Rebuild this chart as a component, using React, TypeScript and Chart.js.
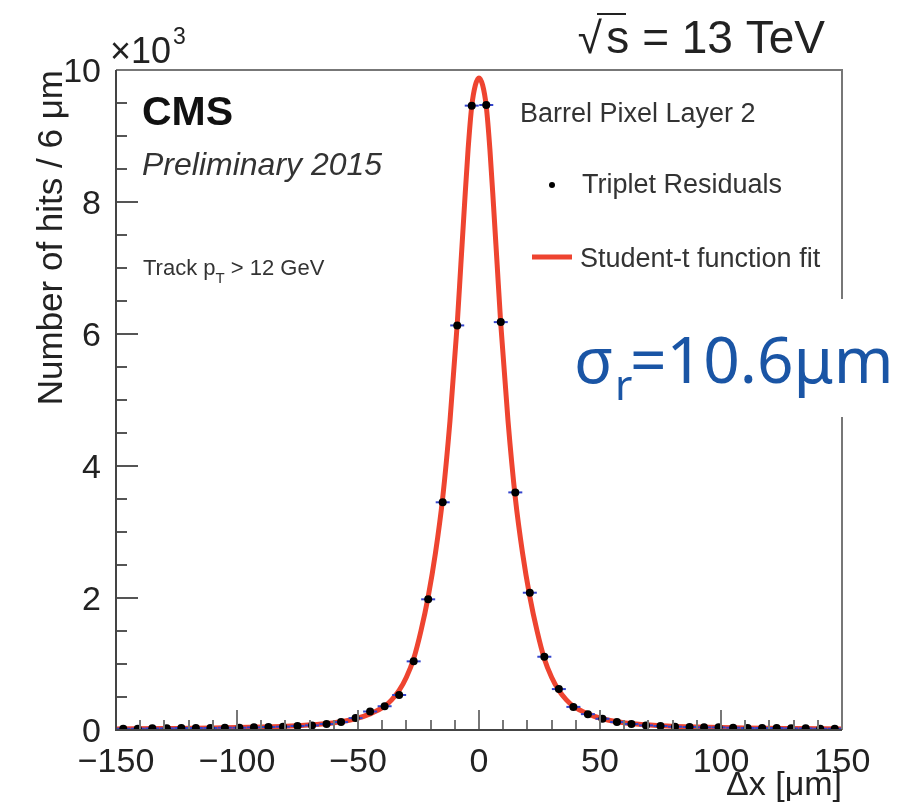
import React, { useEffect, useRef } from "react";
import { Chart, registerables } from "chart.js";

Chart.register(...registerables);

// ---- data (y in units of 10^3 hits) ----
const binCenters = [
  -147, -141, -135, -129, -123, -117, -111, -105, -99, -93,
  -87, -81, -75, -69, -63, -57, -51, -45, -39, -33,
  -27, -21, -15, -9, -3, 3, 9, 15, 21, 27,
  33, 39, 45, 51, 57, 63, 69, 75, 81, 87,
  93, 99, 105, 111, 117, 123, 129, 135, 141, 147,
];
const hitCounts = [
  0.02, 0.02, 0.025, 0.025, 0.03, 0.03, 0.03, 0.035, 0.035, 0.04,
  0.045, 0.05, 0.06, 0.07, 0.09, 0.12, 0.18, 0.28, 0.36, 0.53,
  1.04, 1.98, 3.45, 6.13, 9.46, 9.47, 6.18, 3.6, 2.08, 1.11,
  0.62, 0.35, 0.24, 0.17, 0.12, 0.09, 0.07, 0.06, 0.05, 0.045,
  0.04, 0.04, 0.035, 0.03, 0.03, 0.03, 0.025, 0.025, 0.02, 0.02,
];
const fitX = [
  -150, -130, -110, -90, -75, -65, -57, -51, -45, -39, -36, -33, -30, -27, -24,
  -21, -18, -15, -12, -9, -7.5, -6, -4.5, -3, -1.5, 0, 1.5, 3, 4.5, 6, 7.5, 9,
  12, 15, 18, 21, 24, 27, 30, 33, 36, 39, 45, 51, 57, 65, 75, 90, 110, 130, 150,
];
const fitY = [
  0.016, 0.022, 0.03, 0.045, 0.065, 0.09, 0.125, 0.17, 0.245, 0.36, 0.46, 0.6,
  0.8, 1.08, 1.5, 2.02, 2.68, 3.52, 4.68, 6.15, 7.05, 7.95, 8.8, 9.45, 9.77,
  9.88, 9.77, 9.45, 8.8, 7.95, 7.05, 6.15, 4.68, 3.52, 2.68, 2.02, 1.5, 1.08,
  0.8, 0.6, 0.46, 0.36, 0.245, 0.17, 0.125, 0.09, 0.065, 0.045, 0.03, 0.022,
  0.016,
];
const xTickValues = [-150, -100, -50, 0, 50, 100, 150];
const yTickValues = [0, 2, 4, 6, 8, 10];
const xMinorStep = 10;
const yMinorStep = 0.5;

const FONT = '"Liberation Sans", Arial, Helvetica, sans-serif';
const RED = "#ee4430";

const rootStyle = {
  id: "rootStyle",
  beforeDraw(chart: any) {
    const { ctx, width, height } = chart;
    ctx.save();
    ctx.fillStyle = "#ffffff";
    ctx.fillRect(0, 0, width, height);
    ctx.restore();
  },
  afterDatasetsDraw(chart: any) {
    const { ctx, chartArea, scales } = chart;
    const { left, right, top, bottom } = chartArea;
    const xs = scales.x;
    const ys = scales.y;
    ctx.save();
    // x ticks (inward)
    ctx.strokeStyle = "#777";
    ctx.lineWidth = 2;
    for (let v = xs.min; v <= xs.max + 1e-6; v += xMinorStep) {
      const px = Math.round(xs.getPixelForValue(v));
      const major = xTickValues.includes(Math.round(v));
      ctx.beginPath();
      ctx.moveTo(px, bottom);
      ctx.lineTo(px, bottom - (major ? 20 : 10));
      ctx.stroke();
    }
    // y ticks (inward)
    ctx.strokeStyle = "#555";
    for (let v = ys.min; v <= ys.max + 1e-6; v += yMinorStep) {
      const py = Math.round(ys.getPixelForValue(v));
      const major = yTickValues.includes(v);
      ctx.beginPath();
      ctx.moveTo(left, py);
      ctx.lineTo(left + (major ? 22 : 11), py);
      ctx.stroke();
    }
    // frame
    ctx.strokeStyle = "#777";
    ctx.lineWidth = 2;
    ctx.beginPath();
    ctx.moveTo(left, top);
    ctx.lineTo(right, top);
    ctx.lineTo(right, bottom);
    ctx.stroke();
    ctx.strokeStyle = "#444";
    ctx.beginPath();
    ctx.moveTo(left, top);
    ctx.lineTo(left, bottom);
    ctx.lineTo(right, bottom);
    ctx.stroke();
    ctx.restore();
  },
  afterDraw(chart: any) {
    const { ctx } = chart;
    ctx.save();
    ctx.textBaseline = "alphabetic";
    ctx.textAlign = "left";

    // sqrt(s) = 13 TeV
    ctx.fillStyle = "#222";
    ctx.font = `46px ${FONT}`;
    ctx.textAlign = "right";
    ctx.fillText("s = 13 TeV", 825, 53);
    ctx.font = `44px ${FONT}`;
    ctx.fillText("√", 602, 53);
    ctx.strokeStyle = "#222";
    ctx.lineWidth = 2;
    ctx.beginPath();
    ctx.moveTo(597, 14);
    ctx.lineTo(626, 14);
    ctx.stroke();

    // x10^3
    ctx.textAlign = "left";
    ctx.font = `36px ${FONT}`;
    ctx.fillText("×10", 110, 63);
    const w10 = ctx.measureText("×10").width;
    ctx.font = `23px ${FONT}`;
    ctx.fillText("3", 110 + w10 + 2, 44);

    // CMS labels
    ctx.fillStyle = "#111";
    ctx.font = `bold 41px ${FONT}`;
    ctx.fillText("CMS", 142, 125);
    ctx.fillStyle = "#333";
    ctx.font = `italic 32px ${FONT}`;
    ctx.fillText("Preliminary 2015", 142, 175);
    ctx.font = `22px ${FONT}`;
    let tx = 143;
    ctx.fillText("Track p", tx, 275);
    tx += ctx.measureText("Track p").width;
    ctx.font = `15px ${FONT}`;
    ctx.fillText("T", tx, 283);
    tx += ctx.measureText("T").width;
    ctx.font = `22px ${FONT}`;
    ctx.fillText(" > 12 GeV", tx, 275);

    // legend
    ctx.fillStyle = "#333";
    ctx.font = `27px ${FONT}`;
    ctx.fillText("Barrel Pixel Layer 2", 520, 122);
    ctx.fillText("Triplet Residuals", 582, 193);
    ctx.fillText("Student-t function fit", 580, 267);
    ctx.fillStyle = "#000";
    ctx.beginPath();
    ctx.arc(552, 185, 3, 0, Math.PI * 2);
    ctx.fill();
    ctx.strokeStyle = RED;
    ctx.lineWidth = 5;
    ctx.beginPath();
    ctx.moveTo(532, 257);
    ctx.lineTo(572, 257);
    ctx.stroke();

    // sigma annotation
    ctx.fillStyle = "#ffffff";
    ctx.fillRect(545, 299, 370, 118);
    ctx.fillStyle = "#1a55a5";
    ctx.font = `64px "Noto Sans", sans-serif`;
    ctx.fillText("σ", 574, 383);
    ctx.font = `42px "Noto Sans", sans-serif`;
    ctx.fillText("r", 615, 400);
    ctx.font = `64px "Noto Sans", sans-serif`;
    ctx.fillText("=10.6μm", 630, 383);
    ctx.restore();
  },
};

export default function App() {
  const canvasRef = useRef<HTMLCanvasElement>(null);

  useEffect(() => {
    document.body.style.margin = "0";
    const canvas = canvasRef.current;
    if (!canvas) return;
    const chart = new Chart(canvas, {
      type: "scatter",
      data: {
        datasets: [
          {
            label: "Student-t function fit",
            data: fitX.map((x, i) => ({ x, y: fitY[i] })),
            showLine: true,
            borderColor: RED,
            borderWidth: 5,
            pointRadius: 0,
            cubicInterpolationMode: "monotone",
            order: 3,
          } as any,
          {
            label: "bin width",
            data: binCenters.map((x, i) => ({ x, y: hitCounts[i] })),
            pointStyle: "line",
            pointRadius: 7,
            pointBorderColor: "#3344cc",
            pointBorderWidth: 2,
            order: 2,
          } as any,
          {
            label: "Triplet Residuals",
            data: binCenters.map((x, i) => ({ x, y: hitCounts[i] })),
            pointStyle: "circle",
            pointRadius: 4,
            pointBackgroundColor: "#000",
            pointBorderWidth: 0,
            order: 1,
          } as any,
        ],
      },
      options: {
        animation: false,
        responsive: false,
        layout: { padding: { left: 0, right: 79, top: 70, bottom: 0 } },
        plugins: { legend: { display: false }, tooltip: { enabled: false } },
        scales: {
          x: {
            type: "linear",
            min: -150,
            max: 150,
            grid: { display: false },
            border: { display: false },
            afterBuildTicks: (s: any) => {
              s.ticks = xTickValues.map((v) => ({ value: v }));
            },
            afterFit: (s: any) => {
              s.height = 73;
            },
            ticks: {
              autoSkip: false,
              maxRotation: 0,
              padding: 8,
              color: "#222",
              font: { family: FONT, size: 34, lineHeight: 1 },
              callback: (v: any) => (v < 0 ? "−" + Math.abs(v) : String(v)),
            },
            title: {
              display: true,
              text: "Δx [μm]",
              align: "end",
              color: "#222",
              padding: { top: 0, bottom: 0 },
              font: { family: FONT, size: 34, lineHeight: 1 },
            },
          },
          y: {
            type: "linear",
            min: 0,
            max: 10,
            grid: { display: false },
            border: { display: false },
            afterBuildTicks: (s: any) => {
              s.ticks = yTickValues.map((v) => ({ value: v }));
            },
            afterFit: (s: any) => {
              s.width = 116;
            },
            ticks: {
              padding: 7,
              color: "#222",
              labelOffset: 3,
              font: { family: FONT, size: 34, lineHeight: 1 },
            },
            title: {
              display: true,
              text: "Number of hits / 6 μm",
              align: "end",
              color: "#222",
              padding: { top: 35, bottom: 0 },
              font: { family: FONT, size: 35, lineHeight: 1 },
            },
          },
        },
      },
      plugins: [rootStyle],
    });
    return () => chart.destroy();
  }, []);

  return (
    <div style={{ width: 921, height: 803 }}>
      <canvas ref={canvasRef} width={921} height={803} style={{ display: "block" }} />
    </div>
  );
}
